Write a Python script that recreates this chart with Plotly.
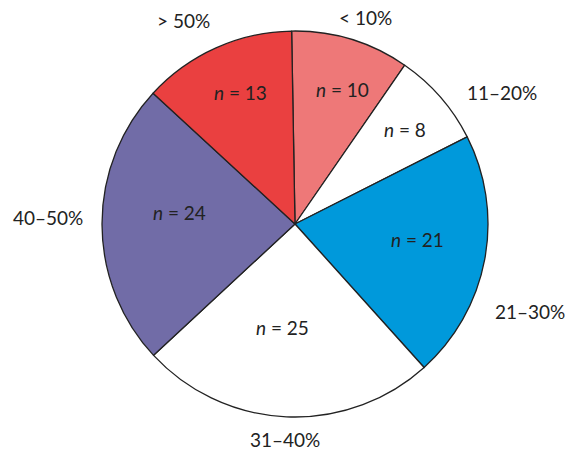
import math
import plotly.graph_objects as go

categories = ["< 10%", "11–20%", "21–30%", "31–40%", "40–50%", "> 50%"]
counts = [10, 8, 21, 25, 24, 13]
colors = ["#EE7878", "#FFFFFF", "#0099DB", "#FFFFFF", "#716CA7", "#EA4040"]

W, H = 573, 452
OFF = 8  # page body margin
cx, cy, R = 295 - OFF, 224 - OFF, 193
rotation = -1

fig = go.Figure(go.Pie(
    labels=categories, values=counts, sort=False, direction="clockwise",
    rotation=rotation, textinfo="none", hoverinfo="label+value",
    marker=dict(colors=colors, line=dict(color="#222222", width=1.3)),
    domain=dict(x=[(cx - R) / W, (cx + R) / W], y=[1 - (cy + R) / H, 1 - (cy - R) / H]),
    showlegend=False,
))

# label placement: radius (fraction of pie radius) and angular offset (deg) from slice middle
inside_r = [0.74, 0.75, 0.64, 0.54, 0.60, 0.74]
inside_shift = [2.4, 0.6, -3.2, 4.4, 5.6, 1.6]
outside_r = [1.13, 1.27, 1.30, 1.12, 1.28, 1.20]
outside_shift = [1.9, 8.7, 9.9, 0.0, 1.7, -4.5]

total = sum(counts)
ann = []
acc = 0
FONT = dict(size=19, color="#222222", family="Lato")


def place(angle_deg, rfrac):
    a = math.radians(angle_deg)
    x = cx + R * rfrac * math.sin(a)
    y = cy - R * rfrac * math.cos(a)
    return x / W, 1 - y / H


for cat, n, ri, si, ro, so in zip(categories, counts, inside_r, inside_shift, outside_r, outside_shift):
    mid = rotation + (acc + n / 2) / total * 360
    acc += n
    x, y = place(mid + si, ri)
    ann.append(dict(x=x, y=y, xref="paper", yref="paper", showarrow=False,
                    xanchor="center", yanchor="middle",
                    text=f"<i>n</i> = {n}", font=FONT))
    x2, y2 = place(mid + so, ro)
    ann.append(dict(x=x2, y=y2, xref="paper", yref="paper", showarrow=False,
                    xanchor="center", yanchor="middle",
                    text=cat, font=FONT))

fig.update_layout(width=W, height=H, margin=dict(l=0, r=0, t=0, b=0),
                  paper_bgcolor="white", plot_bgcolor="white", annotations=ann)
fig.write_html("out.html")
